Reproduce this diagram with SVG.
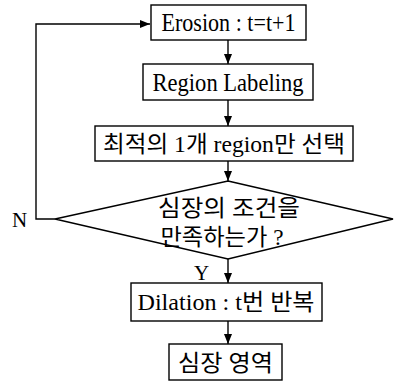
<svg xmlns="http://www.w3.org/2000/svg" width="396" height="383" viewBox="0 0 396 383">
<style>
.box{fill:#fff;stroke:#000;stroke-width:1.4}
.ln{fill:none;stroke:#000;stroke-width:1.4}
.lat{font-family:"Liberation Serif","Noto Sans CJK KR",serif;font-size:25px;fill:#000}
.kr{font-family:"Liberation Serif","Noto Sans CJK KR",sans-serif;font-size:23px;fill:#000}
.lbl{font-family:"Liberation Serif",serif;font-size:21px;fill:#000}
</style>
<defs>
<marker id="ah" viewBox="0 0 10 10" refX="10" refY="5" markerWidth="10" markerHeight="10" markerUnits="userSpaceOnUse" orient="auto">
<path d="M0,1 L10,5 L0,9 z" fill="#000"/>
</marker>
</defs>
<rect width="396" height="383" fill="#fff"/>
<g id="connectors">
<line class="ln" x1="228" y1="40" x2="228" y2="64" marker-end="url(#ah)"/>
<line class="ln" x1="228" y1="100" x2="228" y2="126" marker-end="url(#ah)"/>
<line class="ln" x1="228" y1="161" x2="228" y2="181" marker-end="url(#ah)"/>
<line class="ln" x1="228" y1="259" x2="228" y2="283" marker-end="url(#ah)"/>
<line class="ln" x1="228" y1="321" x2="228" y2="344" marker-end="url(#ah)"/>
<polyline class="ln" points="55,219 36,219 36,24 150,24" marker-end="url(#ah)"/>
<text class="lbl" x="12" y="227">N</text>
<text class="lbl" x="194" y="280">Y</text>
</g>
<g id="erosion">
<rect class="box" x="151" y="5" width="155" height="35"/>
<text class="lat" x="228.5" y="31" text-anchor="middle" textLength="134" lengthAdjust="spacingAndGlyphs">Erosion : t=t+1</text>
</g>
<g id="labeling">
<rect class="box" x="143" y="64" width="170" height="36"/>
<text class="lat" x="228" y="91" text-anchor="middle" textLength="151" lengthAdjust="spacingAndGlyphs">Region Labeling</text>
</g>
<g id="select">
<rect class="box" x="95" y="126" width="258" height="35"/>
<text class="kr" x="224" y="152" text-anchor="middle" textLength="242" lengthAdjust="spacingAndGlyphs">최적의 1개 region만 선택</text>
</g>
<g id="decision">
<polygon class="box" points="228,181 393,219 228,259 55,219"/>
<text class="kr" x="229" y="216" text-anchor="middle" textLength="142" lengthAdjust="spacingAndGlyphs">심장의 조건을</text>
<text class="kr" x="222" y="245" text-anchor="middle" textLength="123" lengthAdjust="spacingAndGlyphs">만족하는가 ?</text>
</g>
<g id="dilation">
<rect class="box" x="131" y="283" width="191" height="38"/>
<text class="kr" x="226" y="310" text-anchor="middle" textLength="177" lengthAdjust="spacingAndGlyphs">Dilation : t번 반복</text>
</g>
<g id="heart">
<rect class="box" x="169" y="344" width="113" height="36"/>
<text class="kr" x="225.5" y="371" text-anchor="middle" textLength="95" lengthAdjust="spacingAndGlyphs">심장 영역</text>
</g>
</svg>
